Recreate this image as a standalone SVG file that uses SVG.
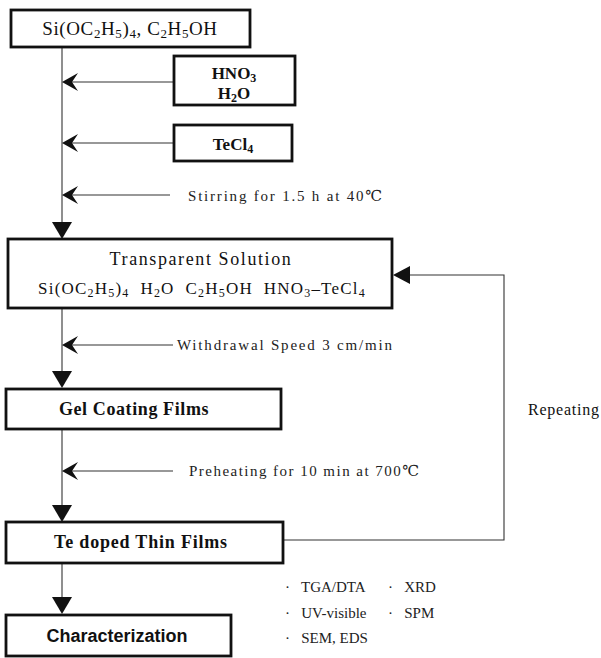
<svg xmlns="http://www.w3.org/2000/svg" width="601" height="658" viewBox="0 0 601 658">
  <style>
    .box { fill: #fff; stroke: #111; stroke-width: 2.8; }
    .conn { fill: none; stroke: #333; stroke-width: 1.1; }
    .t { font-family: "Liberation Serif", "DejaVu Serif", serif; fill: #111; }
    .tb { font-family: "Liberation Serif", "DejaVu Serif", serif; font-weight: bold; fill: #111; }
    .ts { font-family: "Liberation Sans", "DejaVu Sans", sans-serif; font-weight: bold; fill: #111; }
    .note { font-family: "Liberation Serif", "DejaVu Serif", serif; fill: #222; font-size: 15px; }
    .head { fill: #111; }
  </style>
  <defs>
    <!-- barbed arrowhead pointing left, used on the side inputs -->
    <path id="barb" d="M0,0 L16,-9 L10,0 L16,9 Z"/>
    <!-- solid triangle pointing down, used on the main flow -->
    <path id="tri" d="M-10,0 L10,0 L0,17 Z"/>
  </defs>

  <!-- connectors -->
  <g id="connectors">
    <line class="conn" x1="62" y1="47" x2="62" y2="222"/>
    <line class="conn" x1="174" y1="82" x2="72" y2="82"/>
    <line class="conn" x1="174" y1="143" x2="72" y2="143"/>
    <line class="conn" x1="170" y1="195" x2="72" y2="195"/>
    <use href="#barb" class="head" x="62" y="82"/>
    <use href="#barb" class="head" x="62" y="143"/>
    <use href="#barb" class="head" x="62" y="195"/>
    <use href="#tri" class="head" x="62" y="222"/>

    <line class="conn" x1="62" y1="308" x2="62" y2="371"/>
    <line class="conn" x1="173" y1="345" x2="72" y2="345"/>
    <use href="#barb" class="head" x="62" y="345"/>
    <use href="#tri" class="head" x="62" y="371"/>

    <line class="conn" x1="62" y1="429" x2="62" y2="505"/>
    <line class="conn" x1="173" y1="471" x2="72" y2="471"/>
    <use href="#barb" class="head" x="62" y="471"/>
    <use href="#tri" class="head" x="62" y="505"/>

    <line class="conn" x1="62" y1="563" x2="62" y2="597"/>
    <use href="#tri" class="head" x="62" y="597"/>

    <!-- repeat loop back to the solution -->
    <polyline class="conn" points="283,540 504,540 504,275 410,275"/>
    <path class="head" d="M393,275 L410,266 L410,284 Z"/>
  </g>

  <g id="precursor">
    <rect class="box" x="11" y="10" width="239" height="37"/>
    <text class="t" x="130" y="35" font-size="19" letter-spacing="0.6" text-anchor="middle">Si(OC<tspan font-size="13" dy="3">2</tspan><tspan dy="-3">H</tspan><tspan font-size="13" dy="3">5</tspan><tspan dy="-3">)</tspan><tspan font-size="13" dy="3">4</tspan><tspan dy="-3">, C</tspan><tspan font-size="13" dy="3">2</tspan><tspan dy="-3">H</tspan><tspan font-size="13" dy="3">5</tspan><tspan dy="-3">OH</tspan></text>
  </g>

  <g id="acid">
    <rect class="box" x="174" y="56" width="121" height="49"/>
    <text class="tb" x="234" y="79" font-size="17" text-anchor="middle">HNO<tspan font-size="12" dy="3">3</tspan></text>
    <text class="tb" x="234" y="99" font-size="17" text-anchor="middle">H<tspan font-size="12" dy="3">2</tspan><tspan dy="-3">O</tspan></text>
  </g>

  <g id="dopant">
    <rect class="box" x="174" y="125" width="118" height="36"/>
    <text class="tb" x="233" y="150" font-size="17" text-anchor="middle">TeCl<tspan font-size="12" dy="3">4</tspan></text>
  </g>

  <text class="note" x="188" y="201" textLength="194" lengthAdjust="spacing">Stirring for 1.5 h at 40℃</text>

  <g id="solution">
    <rect class="box" x="8" y="239" width="384" height="69"/>
    <text class="t" x="201" y="265" font-size="18" letter-spacing="1.6" text-anchor="middle">Transparent Solution</text>
    <text class="t" xml:space="preserve" x="202" y="294" font-size="17" letter-spacing="1.2" text-anchor="middle">Si(OC<tspan font-size="12" dy="3">2</tspan><tspan dy="-3">H</tspan><tspan font-size="12" dy="3">5</tspan><tspan dy="-3">)</tspan><tspan font-size="12" dy="3">4</tspan><tspan dy="-3">  H</tspan><tspan font-size="12" dy="3">2</tspan><tspan dy="-3">O  C</tspan><tspan font-size="12" dy="3">2</tspan><tspan dy="-3">H</tspan><tspan font-size="12" dy="3">5</tspan><tspan dy="-3">OH  HNO</tspan><tspan font-size="12" dy="3">3</tspan><tspan dy="-3">–TeCl</tspan><tspan font-size="12" dy="3">4</tspan></text>
  </g>

  <text class="note" x="177" y="350" textLength="215" lengthAdjust="spacing">Withdrawal Speed 3 cm/min</text>

  <g id="gel">
    <rect class="box" x="6" y="389" width="275" height="40"/>
    <text class="tb" x="134" y="415" font-size="18" letter-spacing="0.6" text-anchor="middle">Gel Coating Films</text>
  </g>

  <text class="t" x="528" y="415" font-size="16" textLength="71" lengthAdjust="spacing">Repeating</text>

  <text class="note" x="189" y="476" textLength="230" lengthAdjust="spacing">Preheating for 10 min at 700℃</text>

  <g id="films">
    <rect class="box" x="6" y="522" width="277" height="41"/>
    <text class="tb" x="141" y="548" font-size="18" letter-spacing="0.8" text-anchor="middle">Te doped Thin Films</text>
  </g>

  <g id="characterization">
    <rect class="box" x="6" y="615" width="225" height="41"/>
    <text class="ts" x="117" y="642" font-size="18" text-anchor="middle">Characterization</text>
  </g>

  <g id="methods" class="note">
    <text x="285" y="592" xml:space="preserve">·   TGA/DTA</text>
    <text x="285" y="618" xml:space="preserve">·   UV-visible</text>
    <text x="285" y="643" xml:space="preserve">·   SEM, EDS</text>
    <text x="388" y="592" xml:space="preserve">·   XRD</text>
    <text x="388" y="618" xml:space="preserve">·   SPM</text>
  </g>
</svg>
